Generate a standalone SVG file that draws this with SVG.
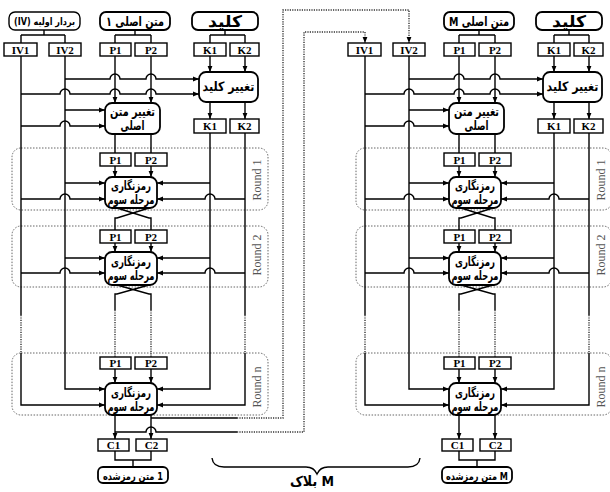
<svg xmlns="http://www.w3.org/2000/svg" width="610" height="492" viewBox="0 0 610 492">
<style>
.b{fill:#fff;stroke:#000;stroke-width:1.4}
.rb{fill:#fff;stroke:#000;stroke-width:1.8}
.l{fill:none;stroke:#000;stroke-width:1.4}
.d{fill:none;stroke:#333;stroke-width:1.4;stroke-dasharray:1.2 1.2}
.rd{fill:none;stroke:#666;stroke-width:1;stroke-dasharray:1.5 1.5}
.t{font-family:"Liberation Serif",serif;font-weight:bold;font-size:11px;text-anchor:middle}
.fa{font-family:"DejaVu Sans Condensed","DejaVu Sans","Liberation Serif",sans-serif;font-weight:bold;text-anchor:middle;direction:rtl}
.fl{font-family:"DejaVu Sans Condensed","DejaVu Sans","Liberation Serif",sans-serif;font-weight:bold;text-anchor:middle;direction:ltr}
.rn{font-family:"Liberation Serif",serif;font-size:12px;fill:#555;text-anchor:middle}
</style>
<defs>
<marker id="a" viewBox="0 0 10 10" refX="10" refY="5" markerWidth="6" markerHeight="6" markerUnits="userSpaceOnUse" orient="auto"><path d="M0,1 L10,5 L0,9 z" fill="#000"/></marker>
</defs>
<rect width="610" height="492" fill="#fff"/>

<!-- ================= LEFT BLOCK ================= -->
<g id="left-rounds">
<g id="L-round1"><rect class="rd" x="12" y="148" width="256" height="62" rx="9"/><text class="rn" transform="translate(261,180) rotate(-90)">Round 1</text></g>
<g id="L-round2"><rect class="rd" x="12" y="226" width="256" height="61" rx="9"/><text class="rn" transform="translate(261,255) rotate(-90)">Round 2</text></g>
<g id="L-roundn"><rect class="rd" x="12" y="353" width="256" height="62" rx="9"/><text class="rn" transform="translate(261,387) rotate(-90)">Round n</text></g>
</g>

<g id="L-connectors">
<path class="l" d="M44,30 V35 M21,35 H65 M21,35 V43 M65,35 V43"/>
<path class="l" d="M135,30 V35 M115,35 H151 M115,35 V43 M151,35 V43"/>
<path class="l" d="M225,30 V35 M210,35 H245 M210,35 V43 M245,35 V43"/>
<path class="l" marker-end="url(#a)" d="M210,56 V72"/>
<path class="l" marker-end="url(#a)" d="M245,56 V72"/>
<path class="l" marker-end="url(#a)" d="M210,102 V119"/>
<path class="l" marker-end="url(#a)" d="M245,102 V119"/>
<path class="l" marker-end="url(#a)" d="M115,56 V103"/>
<path class="l" marker-end="url(#a)" d="M151,56 V103"/>
<path class="l" marker-end="url(#a)" d="M65,79 H110 a5,5 0 0 1 10,0 H146 a5,5 0 0 1 10,0 H199"/>
<path class="l" marker-end="url(#a)" d="M21,94 H60 a5,5 0 0 1 10,0 H110 a5,5 0 0 1 10,0 H146 a5,5 0 0 1 10,0 H199"/>
<path class="l" marker-end="url(#a)" d="M65,110 H105"/>
<path class="l" marker-end="url(#a)" d="M21,126 H60 a5,5 0 0 1 10,0 H105"/>
<path class="l" d="M115,134 V153 M151,134 V153"/>
<path class="l" d="M21,56 V315"/><path class="d" d="M21,315 V353"/>
<path class="l" marker-end="url(#a)" d="M21,353 V405 H105"/>
<path class="l" marker-end="url(#a)" d="M65,56 V389 H105"/>
<path class="l" marker-end="url(#a)" d="M210,133 V389 H157"/>
<path class="l" d="M245,133 V315"/><path class="d" d="M245,315 V353"/>
<path class="l" marker-end="url(#a)" d="M245,353 V405 H157"/>
<path class="l" marker-end="url(#a)" d="M115,166 V177"/>
<path class="l" marker-end="url(#a)" d="M151,166 V177"/>
<path class="l" marker-end="url(#a)" d="M65,183 H105"/>
<path class="l" marker-end="url(#a)" d="M21,199 H60 a5,5 0 0 1 10,0 H105"/>
<path class="l" marker-end="url(#a)" d="M210,183 H157"/>
<path class="l" marker-end="url(#a)" d="M245,199 H215 a5,5 0 0 0 -10,0 H157"/>
<path class="l" d="M117,208 L149,218 H151 V230 M149,208 L117,218 H115 V230"/>
<path class="l" marker-end="url(#a)" d="M115,243 V252"/>
<path class="l" marker-end="url(#a)" d="M151,243 V252"/>
<path class="l" marker-end="url(#a)" d="M65,258 H105"/>
<path class="l" marker-end="url(#a)" d="M21,273 H60 a5,5 0 0 1 10,0 H105"/>
<path class="l" marker-end="url(#a)" d="M210,258 H157"/>
<path class="l" marker-end="url(#a)" d="M245,273 H215 a5,5 0 0 0 -10,0 H157"/>
<path class="l" d="M117,285 L149,294 H151 V310 M149,285 L117,294 H115 V310"/>
<path class="d" d="M115,310 V357 M151,310 V357"/>
<path class="l" marker-end="url(#a)" d="M115,369 V383"/>
<path class="l" marker-end="url(#a)" d="M151,369 V383"/>
<path class="l" marker-end="url(#a)" d="M115,415 V439"/>
<path class="l" marker-end="url(#a)" d="M151,415 V439"/>
<path class="l" d="M115,451 V460 H151 V451 M133,460 V467"/>
<path class="l" d="M151,418 H237"/>
<path class="d" marker-end="url(#a)" d="M237,418 H283 V10 H409 V43"/>
<path class="l" d="M115,432 H146 a5,5 0 0 1 10,0 H237"/>
<path class="d" marker-end="url(#a)" d="M237,432 H304 V32 H365 V43"/>
</g>

<g id="L-iv-src"><rect class="b" x="9" y="12" width="71" height="18" rx="6"/><text class="fa" x="44.5" y="25" font-size="10" textLength="61" lengthAdjust="spacingAndGlyphs">بردار اولیه (IV)</text></g>
<g id="L-pt-src"><rect class="rb" x="100" y="12" width="70" height="18" rx="6"/><text class="fa" x="135" y="26" font-size="13" textLength="58" lengthAdjust="spacingAndGlyphs">متن اصلی ۱</text></g>
<g id="L-key-src"><rect class="rb" x="192" y="12" width="66" height="18" rx="6"/><text class="fa" x="225" y="26.5" font-size="16" textLength="34" lengthAdjust="spacingAndGlyphs">کلید</text></g>
<g id="L-IV1"><rect class="b" x="4" y="43" width="33" height="13"/><text class="t" x="20.5" y="53.5">IV1</text></g>
<g id="L-IV2"><rect class="b" x="49" y="43" width="32" height="13"/><text class="t" x="65" y="53.5">IV2</text></g>
<g id="L-P1"><rect class="b" x="100" y="43" width="31" height="13"/><text class="t" x="115.5" y="53.5">P1</text></g>
<g id="L-P2"><rect class="b" x="135" y="43" width="32" height="13"/><text class="t" x="151" y="53.5">P2</text></g>
<g id="L-K1"><rect class="b" x="194" y="43" width="32" height="13"/><text class="t" x="210" y="53.5">K1</text></g>
<g id="L-K2"><rect class="b" x="230" y="43" width="29" height="13"/><text class="t" x="244.5" y="53.5">K2</text></g>
<g id="L-keychange"><rect class="rb" x="199" y="72" width="59" height="30" rx="7"/><text class="fa" x="228.5" y="91" font-size="13" textLength="52" lengthAdjust="spacingAndGlyphs">تغییر کلید</text></g>
<g id="L-ptchange"><rect class="rb" x="105" y="103" width="55" height="31" rx="7"/><text class="fa" x="132.5" y="116" font-size="13" textLength="45" lengthAdjust="spacingAndGlyphs">تغییر متن</text><text class="fa" x="132.5" y="130" font-size="13" textLength="24" lengthAdjust="spacingAndGlyphs">اصلی</text></g>
<g id="L-K1b"><rect class="b" x="194" y="119" width="32" height="14"/><text class="t" x="210" y="130">K1</text></g>
<g id="L-K2b"><rect class="b" x="230" y="119" width="29" height="14"/><text class="t" x="244.5" y="130">K2</text></g>
<g id="L-r1-P1"><rect class="b" x="100" y="153" width="31" height="13"/><text class="t" x="115.5" y="163.5">P1</text></g>
<g id="L-r1-P2"><rect class="b" x="135" y="153" width="32" height="13"/><text class="t" x="151" y="163.5">P2</text></g>
<g id="L-r1-enc"><rect class="rb" x="105" y="177" width="52" height="31" rx="7"/><text class="fa" x="131" y="190" font-size="12.5" textLength="40" lengthAdjust="spacingAndGlyphs">رمزنگاری</text><text class="fa" x="131" y="204" font-size="12.5" textLength="47" lengthAdjust="spacingAndGlyphs">مرحله سوم</text></g>
<g id="L-r2-P1"><rect class="b" x="100" y="230" width="31" height="13"/><text class="t" x="115.5" y="240.5">P1</text></g>
<g id="L-r2-P2"><rect class="b" x="135" y="230" width="32" height="13"/><text class="t" x="151" y="240.5">P2</text></g>
<g id="L-r2-enc"><rect class="rb" x="105" y="252" width="52" height="33" rx="7"/><text class="fa" x="131" y="266" font-size="12.5" textLength="40" lengthAdjust="spacingAndGlyphs">رمزنگاری</text><text class="fa" x="131" y="280" font-size="12.5" textLength="47" lengthAdjust="spacingAndGlyphs">مرحله سوم</text></g>
<g id="L-rn-P1"><rect class="b" x="100" y="357" width="31" height="12"/><text class="t" x="115.5" y="367">P1</text></g>
<g id="L-rn-P2"><rect class="b" x="135" y="357" width="32" height="12"/><text class="t" x="151" y="367">P2</text></g>
<g id="L-rn-enc"><rect class="rb" x="105" y="383" width="52" height="32" rx="7"/><text class="fa" x="131" y="397" font-size="12.5" textLength="40" lengthAdjust="spacingAndGlyphs">رمزنگاری</text><text class="fa" x="131" y="411" font-size="12.5" textLength="47" lengthAdjust="spacingAndGlyphs">مرحله سوم</text></g>
<g id="L-C1"><rect class="b" x="98" y="439" width="31" height="12"/><text class="t" x="113.5" y="449">C1</text></g>
<g id="L-C2"><rect class="b" x="136" y="439" width="31" height="12"/><text class="t" x="151.5" y="449">C2</text></g>
<g id="L-ct"><rect class="rb" x="98" y="467" width="70" height="16" rx="5"/><text class="fl" x="133" y="479.5" font-size="11" textLength="60" lengthAdjust="spacingAndGlyphs">متن رمزشده&#x200E; 1</text></g>

<!-- ================= RIGHT BLOCK (M) ================= -->
<g transform="translate(344,0)">
<g id="right-rounds">
<g id="R-round1"><rect class="rd" x="12" y="148" width="256" height="62" rx="9"/><text class="rn" transform="translate(261,180) rotate(-90)">Round 1</text></g>
<g id="R-round2"><rect class="rd" x="12" y="226" width="256" height="61" rx="9"/><text class="rn" transform="translate(261,255) rotate(-90)">Round 2</text></g>
<g id="R-roundn"><rect class="rd" x="12" y="353" width="256" height="62" rx="9"/><text class="rn" transform="translate(261,387) rotate(-90)">Round n</text></g>
</g>
<g id="R-connectors">
<path class="l" d="M135,30 V35 M115,35 H151 M115,35 V43 M151,35 V43"/>
<path class="l" d="M225,30 V35 M210,35 H245 M210,35 V43 M245,35 V43"/>
<path class="l" marker-end="url(#a)" d="M210,56 V72"/>
<path class="l" marker-end="url(#a)" d="M245,56 V72"/>
<path class="l" marker-end="url(#a)" d="M210,102 V119"/>
<path class="l" marker-end="url(#a)" d="M245,102 V119"/>
<path class="l" marker-end="url(#a)" d="M115,56 V103"/>
<path class="l" marker-end="url(#a)" d="M151,56 V103"/>
<path class="l" marker-end="url(#a)" d="M65,79 H110 a5,5 0 0 1 10,0 H146 a5,5 0 0 1 10,0 H199"/>
<path class="l" marker-end="url(#a)" d="M21,94 H60 a5,5 0 0 1 10,0 H110 a5,5 0 0 1 10,0 H146 a5,5 0 0 1 10,0 H199"/>
<path class="l" marker-end="url(#a)" d="M65,110 H105"/>
<path class="l" marker-end="url(#a)" d="M21,126 H60 a5,5 0 0 1 10,0 H105"/>
<path class="l" d="M115,134 V153 M151,134 V153"/>
<path class="l" d="M21,56 V315"/><path class="d" d="M21,315 V353"/>
<path class="l" marker-end="url(#a)" d="M21,353 V405 H105"/>
<path class="l" marker-end="url(#a)" d="M65,56 V389 H105"/>
<path class="l" marker-end="url(#a)" d="M210,133 V389 H157"/>
<path class="l" d="M245,133 V315"/><path class="d" d="M245,315 V353"/>
<path class="l" marker-end="url(#a)" d="M245,353 V405 H157"/>
<path class="l" marker-end="url(#a)" d="M115,166 V177"/>
<path class="l" marker-end="url(#a)" d="M151,166 V177"/>
<path class="l" marker-end="url(#a)" d="M65,183 H105"/>
<path class="l" marker-end="url(#a)" d="M21,199 H60 a5,5 0 0 1 10,0 H105"/>
<path class="l" marker-end="url(#a)" d="M210,183 H157"/>
<path class="l" marker-end="url(#a)" d="M245,199 H215 a5,5 0 0 0 -10,0 H157"/>
<path class="l" d="M117,208 L149,218 H151 V230 M149,208 L117,218 H115 V230"/>
<path class="l" marker-end="url(#a)" d="M115,243 V252"/>
<path class="l" marker-end="url(#a)" d="M151,243 V252"/>
<path class="l" marker-end="url(#a)" d="M65,258 H105"/>
<path class="l" marker-end="url(#a)" d="M21,273 H60 a5,5 0 0 1 10,0 H105"/>
<path class="l" marker-end="url(#a)" d="M210,258 H157"/>
<path class="l" marker-end="url(#a)" d="M245,273 H215 a5,5 0 0 0 -10,0 H157"/>
<path class="l" d="M117,285 L149,294 H151 V310 M149,285 L117,294 H115 V310"/>
<path class="d" d="M115,310 V357 M151,310 V357"/>
<path class="l" marker-end="url(#a)" d="M115,369 V383"/>
<path class="l" marker-end="url(#a)" d="M151,369 V383"/>
<path class="l" marker-end="url(#a)" d="M115,415 V439"/>
<path class="l" marker-end="url(#a)" d="M151,415 V439"/>
<path class="l" d="M115,451 V460 H151 V451 M133,460 V467"/>
</g>
<g id="R-pt-src"><rect class="rb" x="100" y="12" width="70" height="18" rx="6"/><text class="fa" x="135" y="26" font-size="13" textLength="60" lengthAdjust="spacingAndGlyphs">متن اصلی M</text></g>
<g id="R-key-src"><rect class="rb" x="192" y="12" width="66" height="18" rx="6"/><text class="fa" x="225" y="26.5" font-size="16" textLength="34" lengthAdjust="spacingAndGlyphs">کلید</text></g>
<g id="R-IV1"><rect class="b" x="4" y="43" width="33" height="13"/><text class="t" x="20.5" y="53.5">IV1</text></g>
<g id="R-IV2"><rect class="b" x="49" y="43" width="32" height="13"/><text class="t" x="65" y="53.5">IV2</text></g>
<g id="R-P1"><rect class="b" x="100" y="43" width="31" height="13"/><text class="t" x="115.5" y="53.5">P1</text></g>
<g id="R-P2"><rect class="b" x="135" y="43" width="32" height="13"/><text class="t" x="151" y="53.5">P2</text></g>
<g id="R-K1"><rect class="b" x="194" y="43" width="32" height="13"/><text class="t" x="210" y="53.5">K1</text></g>
<g id="R-K2"><rect class="b" x="230" y="43" width="29" height="13"/><text class="t" x="244.5" y="53.5">K2</text></g>
<g id="R-keychange"><rect class="rb" x="199" y="72" width="59" height="30" rx="7"/><text class="fa" x="228.5" y="91" font-size="13" textLength="52" lengthAdjust="spacingAndGlyphs">تغییر کلید</text></g>
<g id="R-ptchange"><rect class="rb" x="105" y="103" width="55" height="31" rx="7"/><text class="fa" x="132.5" y="116" font-size="13" textLength="45" lengthAdjust="spacingAndGlyphs">تغییر متن</text><text class="fa" x="132.5" y="130" font-size="13" textLength="24" lengthAdjust="spacingAndGlyphs">اصلی</text></g>
<g id="R-K1b"><rect class="b" x="194" y="119" width="32" height="14"/><text class="t" x="210" y="130">K1</text></g>
<g id="R-K2b"><rect class="b" x="230" y="119" width="29" height="14"/><text class="t" x="244.5" y="130">K2</text></g>
<g id="R-r1-P1"><rect class="b" x="100" y="153" width="31" height="13"/><text class="t" x="115.5" y="163.5">P1</text></g>
<g id="R-r1-P2"><rect class="b" x="135" y="153" width="32" height="13"/><text class="t" x="151" y="163.5">P2</text></g>
<g id="R-r1-enc"><rect class="rb" x="105" y="177" width="52" height="31" rx="7"/><text class="fa" x="131" y="190" font-size="12.5" textLength="40" lengthAdjust="spacingAndGlyphs">رمزنگاری</text><text class="fa" x="131" y="204" font-size="12.5" textLength="47" lengthAdjust="spacingAndGlyphs">مرحله سوم</text></g>
<g id="R-r2-P1"><rect class="b" x="100" y="230" width="31" height="13"/><text class="t" x="115.5" y="240.5">P1</text></g>
<g id="R-r2-P2"><rect class="b" x="135" y="230" width="32" height="13"/><text class="t" x="151" y="240.5">P2</text></g>
<g id="R-r2-enc"><rect class="rb" x="105" y="252" width="52" height="33" rx="7"/><text class="fa" x="131" y="266" font-size="12.5" textLength="40" lengthAdjust="spacingAndGlyphs">رمزنگاری</text><text class="fa" x="131" y="280" font-size="12.5" textLength="47" lengthAdjust="spacingAndGlyphs">مرحله سوم</text></g>
<g id="R-rn-P1"><rect class="b" x="100" y="357" width="31" height="12"/><text class="t" x="115.5" y="367">P1</text></g>
<g id="R-rn-P2"><rect class="b" x="135" y="357" width="32" height="12"/><text class="t" x="151" y="367">P2</text></g>
<g id="R-rn-enc"><rect class="rb" x="105" y="383" width="52" height="32" rx="7"/><text class="fa" x="131" y="397" font-size="12.5" textLength="40" lengthAdjust="spacingAndGlyphs">رمزنگاری</text><text class="fa" x="131" y="411" font-size="12.5" textLength="47" lengthAdjust="spacingAndGlyphs">مرحله سوم</text></g>
<g id="R-C1"><rect class="b" x="98" y="439" width="31" height="12"/><text class="t" x="113.5" y="449">C1</text></g>
<g id="R-C2"><rect class="b" x="136" y="439" width="31" height="12"/><text class="t" x="151.5" y="449">C2</text></g>
<g id="R-ct"><rect class="rb" x="98" y="467" width="70" height="16" rx="5"/><text class="fl" x="133" y="479.5" font-size="11" textLength="62" lengthAdjust="spacingAndGlyphs">متن رمزشده M</text></g>
</g>

<g id="brace">
<path class="l" d="M212,458 Q213,467 224,467 H306 Q314,467 317,474 Q320,467 328,467 H408 Q419,467 420,458"/>
<text class="fl" x="312" y="486" font-size="14">بلاک M</text>
</g>
</svg>
